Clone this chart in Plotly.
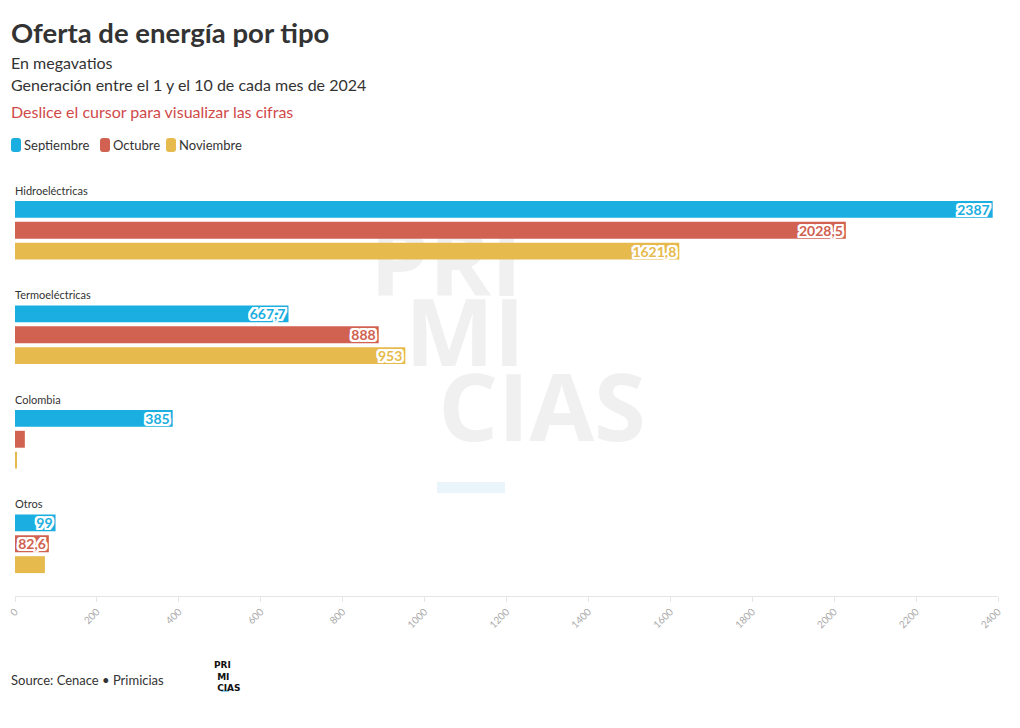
import plotly.graph_objects as go

categories = ["Hidroeléctricas", "Termoeléctricas", "Colombia", "Otros"]
months = ["Septiembre", "Octubre", "Noviembre"]
sept = [2387, 667.7, 385, 99]
octu = [2028.5, 888, 24, 82.6]
novi = [1621.8, 953, 4, 73]
colors = ["#1aaee1", "#d16150", "#e6ba4c"]
x_ticks = list(range(0, 2401, 200))

W, H = 1020, 728
L, R, T, B = 15, 22, 178, 132
PW, PH = W - L - R, H - T - B
FONT = "Lato"


def fmt(v):
    s = ("%.1f" % v).rstrip("0").rstrip(".")
    return s.replace(".", ",")


def px_x(px):
    return (px - L) / PW


def px_y(py):
    return (H - B - py) / PH


fig = go.Figure()

# Watermark on a hidden background subplot (drawn beneath the bars)
fig.add_trace(go.Scatter(
    x=[446, 465, 542], y=[272, 342, 417], text=["PRI", "MI", "CIAS"],
    mode="text", textfont=dict(family="Open Sans", size=94, color="#f0f0f0", weight="bold"),
    xaxis="x", yaxis="y", showlegend=False, hoverinfo="skip"))

halo = ",".join(f"{dx}px {dy}px 0 #ffffff" for dx in (-2, -1, 0, 1, 2) for dy in (-2, -1, 0, 1, 2) if dx or dy)
for name, vals, col in zip(months, [sept, octu, novi], colors):
    fig.add_trace(go.Bar(
        y=categories, x=vals, name=name, orientation="h",
        marker=dict(color=col, line=dict(width=0)),
        text=[fmt(v) if v >= 80 else "" for v in vals],
        textposition="inside", insidetextanchor="end", constraintext="none", textangle=0,
        textfont=dict(family=FONT, size=14, color=col, weight="bold", shadow=halo),
        xaxis="x2", yaxis="y2", showlegend=False))

shapes = [dict(type="rect", xref="x", yref="y", x0=437, x1=505, y0=482, y1=493,
               fillcolor="#e9f5fb", line=dict(width=0), layer="below"),
          dict(type="rect", xref="paper", yref="paper", x0=px_x(221), x1=px_x(229), y0=px_y(692), y1=px_y(690),
               fillcolor="#8fd0ee", line=dict(width=0))]


def rounded(x0, y0, x1, y1, r):
    X = lambda p: px_x(p)
    Y = lambda p: px_y(p)
    return (f"M {X(x0 + r)} {Y(y0)} L {X(x1 - r)} {Y(y0)} Q {X(x1)} {Y(y0)} {X(x1)} {Y(y0 + r)} "
            f"L {X(x1)} {Y(y1 - r)} Q {X(x1)} {Y(y1)} {X(x1 - r)} {Y(y1)} "
            f"L {X(x0 + r)} {Y(y1)} Q {X(x0)} {Y(y1)} {X(x0)} {Y(y1 - r)} "
            f"L {X(x0)} {Y(y0 + r)} Q {X(x0)} {Y(y0)} {X(x0 + r)} {Y(y0)} Z")


legend_x = [11, 100, 166]
for lx, name, col in zip(legend_x, months, colors):
    shapes.append(dict(type="path", xref="paper", yref="paper", path=rounded(lx, 138, lx + 10, 152, 3),
                       fillcolor=col, line=dict(width=0)))
    fig.add_annotation(text=name, x=px_x(lx + 11), y=px_y(145), xref="paper", yref="paper",
                       xanchor="left", yanchor="middle", showarrow=False,
                       font=dict(size=13, color="#333333", family=FONT))

fig.update_layout(
    width=W, height=H,
    margin=dict(l=L, r=R, t=T, b=B, autoexpand=False),
    paper_bgcolor="white", plot_bgcolor="rgba(0,0,0,0)",
    font=dict(family=FONT, color="#333333"),
    barmode="group", bargap=0.4, bargroupgap=0.19,
    showlegend=False,
    xaxis=dict(domain=[0, 1], range=[L, W - R], visible=False, fixedrange=True),
    yaxis=dict(domain=[0, 1], range=[H - B, T], visible=False, fixedrange=True),
    xaxis2=dict(domain=[0, 1], anchor="y2", range=[0, 2400], tickvals=x_ticks, automargin=False,
                tickangle=-45, tickfont=dict(size=10, color="#aaaaaa"),
                showgrid=False, zeroline=False, showline=True, linecolor="#e6e6e6",
                ticks="outside", ticklen=5, tickcolor="#e6e6e6"),
    yaxis2=dict(domain=[0, 1], anchor="x2", autorange="reversed", showticklabels=False, automargin=False,
                showgrid=False, zeroline=False, showline=False, ticks=""),
    shapes=shapes,
)

ann = [
    dict(text="<b>Oferta de energía por tipo</b>", x=px_x(9), y=px_y(33), size=27.5, color="#333333"),
    dict(text="En megavatios", x=px_x(9), y=px_y(63), size=16, color="#333333"),
    dict(text="Generación entre el 1 y el 10 de cada mes de 2024", x=px_x(9), y=px_y(84), size=16, color="#333333"),
    dict(text="Deslice el cursor para visualizar las cifras", x=px_x(9), y=px_y(112), size=16, color="#d04a4a"),
    dict(text="Source: Cenace • Primicias", x=px_x(9), y=px_y(680), size=13, color="#333333"),
]
for a in ann:
    fig.add_annotation(text=a["text"], x=a["x"], y=a["y"], xref="paper", yref="paper",
                       xanchor="left", yanchor="middle", showarrow=False,
                       font=dict(size=a["size"], color=a["color"], family=FONT))

fig.add_annotation(text="<b>PRI<br> MI<br> CIAS</b>", x=px_x(212), y=px_y(676), xref="paper", yref="paper",
                   xanchor="left", yanchor="middle", showarrow=False, align="left",
                   font=dict(size=9, color="#111111", family="DejaVu Sans"))

for c in categories:
    fig.add_annotation(text=c, x=0, y=c, xref="paper", yref="y2", xanchor="left", yanchor="middle",
                       xshift=-2, yshift=40, showarrow=False, font=dict(size=11, color="#333333", family=FONT))

fig.write_html("out.html")
